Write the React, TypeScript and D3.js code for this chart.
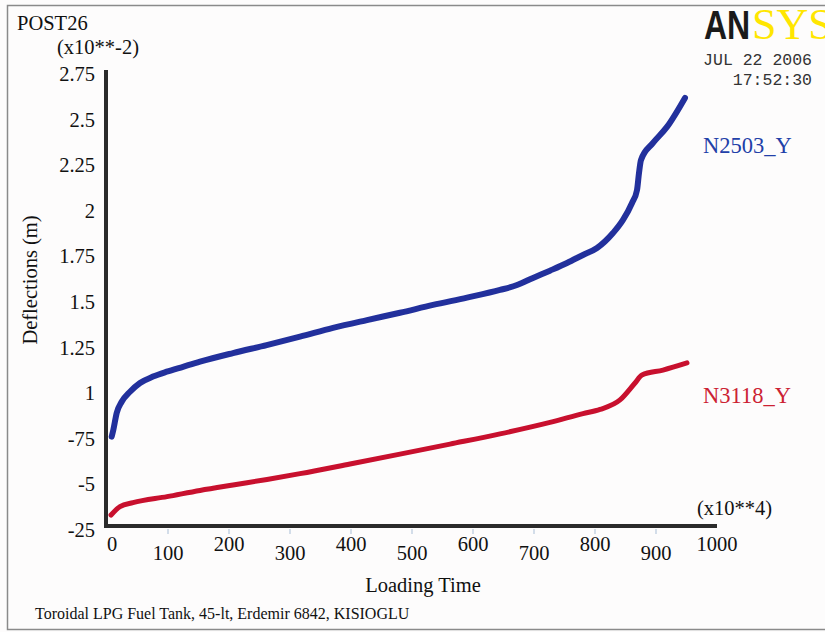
import React, { useEffect, useRef } from 'react';
import * as d3 from 'd3';

// loading time (x10**4)
const blueX = [7.7, 10.3, 15.9, 24.1, 37.7, 54.1, 75.4, 97.9, 124.6, 152.5, 206.6, 261.8, 316.4, 370.5, 426.2, 480.3, 534.4, 590.2, 644.3, 672.1, 698.4, 726.2, 754.1, 780.3, 803.3, 829.5, 845.9, 860.7, 868.9, 872.1, 875.4, 895.1, 918.0, 947.5];
// N2503_Y deflection (x10**-2 m)
const blueY = [0.74, 0.776, 0.87, 0.931, 0.986, 1.034, 1.069, 1.096, 1.123, 1.151, 1.198, 1.242, 1.288, 1.336, 1.379, 1.419, 1.462, 1.502, 1.544, 1.571, 1.61, 1.65, 1.692, 1.736, 1.774, 1.856, 1.928, 2.021, 2.092, 2.185, 2.257, 2.35, 2.438, 2.597];

const redX = [6.6, 21.3, 42.6, 98.4, 152.5, 206.6, 262.3, 316.4, 398.4, 480.3, 562.3, 644.3, 726.2, 780.3, 808.2, 841.0, 865.6, 877.0, 911.5, 950.8];
// N3118_Y deflection (x10**-2 m)
const redY = [0.31, 0.356, 0.378, 0.411, 0.445, 0.475, 0.505, 0.537, 0.59, 0.644, 0.699, 0.755, 0.818, 0.866, 0.889, 0.941, 1.034, 1.078, 1.105, 1.144];

const xTicks = [0, 100, 200, 300, 400, 500, 600, 700, 800, 900, 1000];
const yTicks = [2.75, 2.5, 2.25, 2, 1.75, 1.5, 1.25, 1, 0.75, 0.5, 0.25];
const yTickLabels = ['2.75', '2.5', '2.25', '2', '1.75', '1.5', '1.25', '1', '-75', '-5', '-25'];

const serif = '"Liberation Serif", "Times New Roman", serif';

const App = () => {
    const svgRef = useRef<SVGSVGElement>(null);

    useEffect(() => {
        const svg = d3.select(svgRef.current);
        svg.selectAll('*').remove();

        const W = 825, H = 632;
        const left = 107, right = 717, top = 70, bottom = 526;

        svg.append('rect').attr('width', W).attr('height', H).attr('fill', '#fdfcfc');
        svg.append('rect')
            .attr('x', 7.5).attr('y', 5.5).attr('width', 840).attr('height', 624)
            .attr('fill', 'none').attr('stroke', '#8a8a8a').attr('stroke-width', 1.5);

        const x = d3.scaleLinear().domain([0, 1000]).range([left, right]);
        const y = d3.scaleLinear().domain([0.25, 2.75]).range([bottom, top]);

        // faint ticks under x axis
        svg.append('g').selectAll('line')
            .data(xTicks.slice(1, -1))
            .enter().append('line')
            .attr('x1', d => x(d)).attr('x2', d => x(d))
            .attr('y1', bottom + 3).attr('y2', bottom + 8)
            .attr('stroke', '#b8c8dc').attr('stroke-width', 1.2);

        // axes
        svg.append('path')
            .attr('d', `M${left - 1},${top}V${bottom}H${right}`)
            .attr('fill', 'none').attr('stroke', '#2b2b2b').attr('stroke-width', 4);

        // x tick labels, staggered
        svg.append('g').selectAll('text')
            .data(xTicks)
            .enter().append('text')
            .attr('x', d => d === 0 ? x(d) + 5 : x(d))
            .attr('y', (d, i) => i % 2 === 0 ? 551 : 560)
            .attr('text-anchor', 'middle')
            .style('font-family', serif).style('font-size', '20.5px').attr('fill', '#111')
            .text(d => String(d));

        // y tick labels
        svg.append('g').selectAll('text')
            .data(yTicks)
            .enter().append('text')
            .attr('x', 95)
            .attr('y', d => y(d) + 11)
            .attr('text-anchor', 'end')
            .style('font-family', serif).style('font-size', '20.5px').attr('fill', '#111')
            .text((d, i) => yTickLabels[i]);

        const line = d3.line<[number, number]>()
            .x(d => x(d[0]))
            .y(d => y(d[1]))
            .curve(d3.curveMonotoneX);

        svg.append('path')
            .datum(redX.map((v, i) => [v, redY[i]] as [number, number]))
            .attr('d', line)
            .attr('fill', 'none').attr('stroke', '#c8102e').attr('stroke-width', 5)
            .attr('stroke-linecap', 'round').attr('stroke-linejoin', 'round');

        svg.append('path')
            .datum(blueX.map((v, i) => [v, blueY[i]] as [number, number]))
            .attr('d', line)
            .attr('fill', 'none').attr('stroke', '#22309c').attr('stroke-width', 6)
            .attr('stroke-linecap', 'round').attr('stroke-linejoin', 'round');

        const txt = (tx: number, ty: number, s: string, size: number, fill = '#111', family = serif, anchor = 'start') =>
            svg.append('text').attr('x', tx).attr('y', ty).attr('text-anchor', anchor)
                .style('font-family', family).style('font-size', `${size}px`).attr('fill', fill).text(s);

        txt(17, 30, 'POST26', 20.5);
        txt(57, 54, '(x10**-2)', 20.5);
        txt(697, 515, '(x10**4)', 20.5);
        txt(423, 592, 'Loading Time', 20.5, '#111', serif, 'middle');
        txt(35, 619, 'Toroidal LPG Fuel Tank, 45-lt, Erdemir 6842, KISIOGLU', 16);

        svg.append('text')
            .attr('transform', 'translate(37,280) rotate(-90)')
            .attr('text-anchor', 'middle')
            .style('font-family', serif).style('font-size', '20.5px').attr('fill', '#111')
            .text('Deflections (m)');

        txt(703, 153, 'N2503_Y', 22.5, '#2240a8');
        txt(703, 403, 'N3118_Y', 22.5, '#cc2233');

        // logo and date stamp
        svg.append('text')
            .attr('transform', 'translate(704,39) scale(0.8,1)')
            .style('font-family', '"Liberation Sans", Arial, sans-serif')
            .style('font-size', '40px').style('font-weight', 'bold')
            .attr('fill', '#1a1a1a')
            .text('AN');
        txt(752, 39, 'SYS', 44, '#ffe600');

        const mono = '"Liberation Mono", "Courier New", monospace';
        txt(812, 65, 'JUL 22 2006', 16.5, '#333', mono, 'end');
        txt(812, 85, '17:52:30', 16.5, '#333', mono, 'end');
    }, []);

    return (
        <svg ref={svgRef} width={825} height={632}
            style={{ position: 'absolute', left: 0, top: 0, display: 'block' }} />
    );
};

export default App;
